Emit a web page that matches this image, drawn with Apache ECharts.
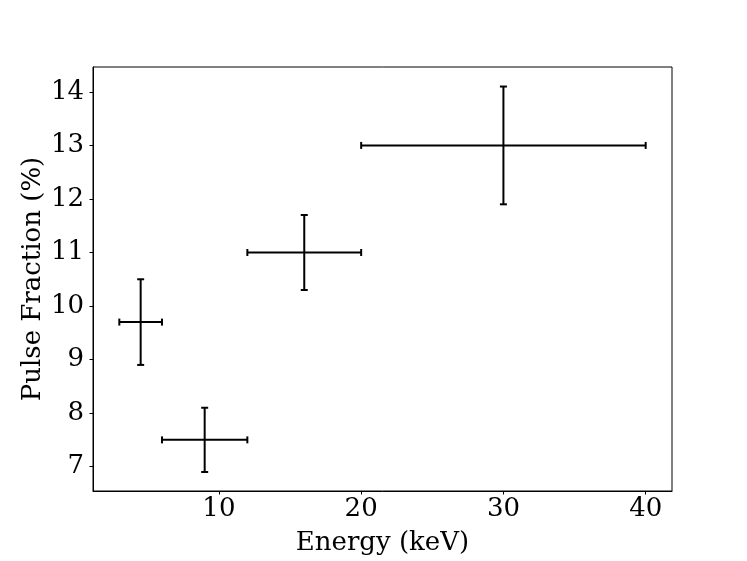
<!DOCTYPE html>
<html>
<head>
<meta charset="utf-8">
<script src="https://cdn.jsdelivr.net/npm/echarts@6/dist/echarts.min.js"></script>
<style>
html,body{margin:0;padding:0;background:#fff;}
#chart{width:747px;height:561px;}
</style>
</head>
<body>
<div id="chart"></div>
<script>
const energy = [4.5, 9, 16, 30];
const energyErr = [1.5, 3, 4, 10];
const pulseFraction = [9.7, 7.5, 11.0, 13.0];
const pulseFractionErr = [0.8, 0.6, 0.7, 1.1];
const xTicks = [10, 20, 30, 40];
const yTicks = [7, 8, 9, 10, 11, 12, 13, 14];

const FONT = 'DejaVu Serif';
const FS = 26;
const chart = echarts.init(document.getElementById('chart'), null, {renderer: 'canvas'});

const data = energy.map((e, i) => [e, pulseFraction[i], energyErr[i], pulseFractionErr[i]]);

const CAP = 3.5;
function renderItem(params, api) {
  const x = api.value(0), y = api.value(1), xe = api.value(2), ye = api.value(3);
  const l = api.coord([x - xe, y]);
  const r = api.coord([x + xe, y]);
  const t = api.coord([x, y + ye]);
  const b = api.coord([x, y - ye]);
  const style = {stroke: '#000', lineWidth: 2, fill: null};
  return {
    type: 'group',
    children: [
      {type: 'line', shape: {x1: l[0], y1: l[1], x2: r[0], y2: r[1]}, style},
      {type: 'line', shape: {x1: l[0], y1: l[1] - CAP, x2: l[0], y2: l[1] + CAP}, style},
      {type: 'line', shape: {x1: r[0], y1: r[1] - CAP, x2: r[0], y2: r[1] + CAP}, style},
      {type: 'line', shape: {x1: t[0], y1: t[1], x2: b[0], y2: b[1]}, style},
      {type: 'line', shape: {x1: t[0] - CAP, y1: t[1], x2: t[0] + CAP, y2: t[1]}, style},
      {type: 'line', shape: {x1: b[0] - CAP, y1: b[1], x2: b[0] + CAP, y2: b[1]}, style}
    ]
  };
}

chart.setOption({
  animation: false,
  backgroundColor: '#fff',
  grid: {left: 93, right: 75, top: 67, bottom: 70, show: true, borderColor: '#000', borderWidth: 1, backgroundColor: 'transparent'},
  xAxis: {
    type: 'value', min: 1.15, max: 41.85,
    name: 'Energy (keV)', nameLocation: 'middle', nameGap: 39, nameMoveOverlap: false,
    nameTextStyle: {fontFamily: FONT, fontSize: FS, color: '#000'},
    axisLine: {show: true, onZero: false, lineStyle: {color: '#000', width: 1}},
    axisTick: {show: true, inside: false, length: 3.5, lineStyle: {color: '#000', width: 1}, customValues: xTicks},
    axisLabel: {show: true, margin: 5, fontFamily: FONT, fontSize: FS, color: '#000', customValues: xTicks},
    splitLine: {show: false}
  },
  yAxis: {
    type: 'value', min: 6.545, max: 14.465,
    name: 'Pulse Fraction (%)', nameLocation: 'middle', nameGap: 47, nameMoveOverlap: false,
    nameTextStyle: {fontFamily: FONT, fontSize: FS, color: '#000'},
    axisLine: {show: true, onZero: false, lineStyle: {color: '#000', width: 1}},
    axisTick: {show: true, inside: false, length: 3.5, lineStyle: {color: '#000', width: 1}, customValues: yTicks},
    axisLabel: {show: true, margin: 9, fontFamily: FONT, fontSize: FS, color: '#000', customValues: yTicks},
    splitLine: {show: false}
  },
  series: [{
    type: 'custom',
    renderItem: renderItem,
    data: data,
    encode: {x: 0, y: 1},
    clip: false
  }]
});
</script>
</body>
</html>
